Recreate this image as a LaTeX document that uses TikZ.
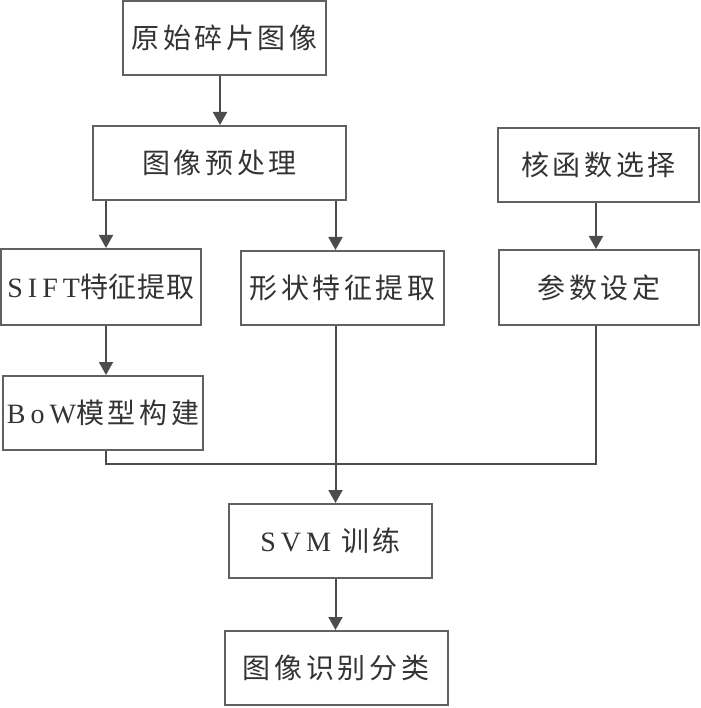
\documentclass[tikz,border=0pt]{standalone}
\usepackage{fontspec}
\setmainfont{Liberation Serif}
\newfontfamily\cjk[LetterSpace=13]{Noto Sans CJK SC}
\newfontfamily\lat[LetterSpace=18]{Liberation Serif}
\usetikzlibrary{arrows.meta}
\begin{document}
\begin{tikzpicture}[x=1pt,y=-1pt,
  box/.style={draw=black!62,line width=2pt,minimum height=74pt,inner sep=0pt,text=black!80,font=\fontsize{28}{30}\selectfont\cjk},
  conn/.style={draw=black!70,line width=2pt},
  arr/.style={conn,-{Triangle[length=13pt,width=14pt]}}]
\useasboundingbox (0,0) rectangle (700,708);
\node[box,minimum width=203pt] (b1) at (224.5,38) {原始碎片图像};
\node[box,minimum width=253pt] (b2) at (219.5,163) {图像预处理};
\node[box,minimum width=201pt] (b3) at (598.5,165) {核函数选择};
\node[box,minimum width=200pt,minimum height=76pt] (b4) at (101,287) {{\lat SIFT}{\addfontfeatures{LetterSpace=3}特征提取}};
\node[box,minimum width=203pt] (b5) at (342.5,288) {形状特征提取};
\node[box,minimum width=200pt,minimum height=75pt] (b6) at (599,287.5) {参数设定};
\node[box,minimum width=200pt] (b7) at (103,413) {{\lat BoW}模型构建};
\node[box,minimum width=203pt] (b8) at (330.5,541) {{\lat SVM} 训练};
\node[box,minimum width=223pt] (b9) at (336,668) {图像识别分类};
\coordinate (xa) at (106,0);
\coordinate (xb) at (335.5,0);
\coordinate (xc) at (596,0);
\coordinate (xd) at (220,0);
\coordinate (yj) at (0,464);
\draw[arr] (b1.south -| xd) -- (b2.north -| xd);
\draw[arr] (b2.south -| xa) -- (b4.north -| xa);
\draw[arr] (b2.south -| xb) -- (b5.north -| xb);
\draw[arr] (b4.south -| xa) -- (b7.north -| xa);
\draw[arr] (b3.south -| xc) -- (b6.north -| xc);
\draw[conn] (b7.south -| xa) -- (yj -| xa) -- (yj -| xc) -- (b6.south -| xc);
\draw[arr] (b5.south -| xb) -- (b8.north -| xb);
\draw[arr] (b8.south -| xb) -- (b9.north -| xb);
\end{tikzpicture}
\end{document}
